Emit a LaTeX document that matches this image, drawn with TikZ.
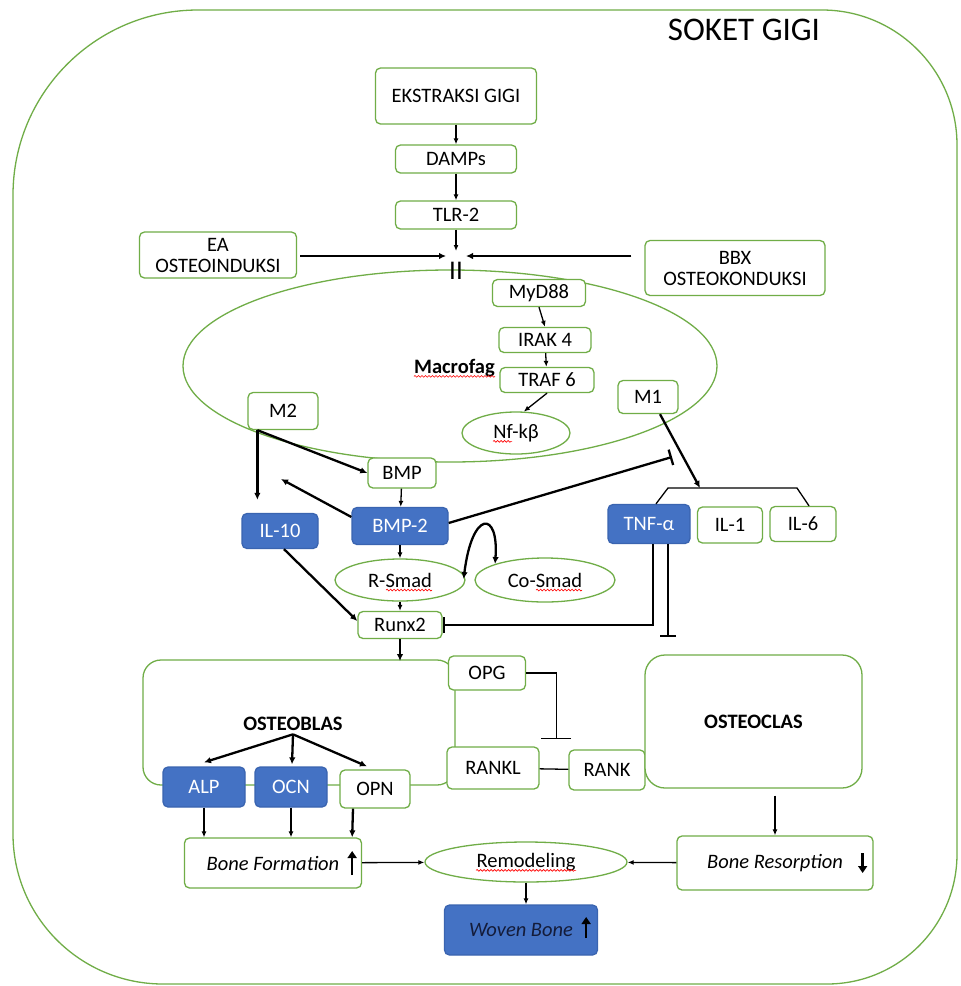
\documentclass[tikz,border=0pt]{standalone}
\usepackage{fontspec}
\setmainfont{Carlito}
\usetikzlibrary{shapes.geometric,arrows.meta,calc,decorations.pathmorphing}
\definecolor{grn}{HTML}{70AD47}
\definecolor{blu}{HTML}{4472C4}
\definecolor{bluedge}{HTML}{3A64B0}
\definecolor{navy}{HTML}{141C3A}
\newcommand\fs{\fontsize{20.5}{21}\selectfont}
\begin{document}
\begin{tikzpicture}[x=1pt,y=-1pt,
 box/.style={draw=grn, line width=1.3pt, rounded corners=5pt, fill=white, font=\fs, inner sep=0pt},
 fbox/.style={draw=bluedge, line width=1.3pt, rounded corners=5pt, fill=blu, text=white, font=\fs, inner sep=0pt},
 ell/.style={ellipse, draw=grn, line width=1.3pt, fill=white, font=\fs, inner sep=0pt},
 ar/.style={line width=1.3pt, -{Latex[length=6pt,width=5pt]}},
 tar/.style={line width=2.3pt, -{Latex[length=7pt,width=6.5pt]}},
 inh/.style={line width=2.3pt, -{Bar[width=16pt]}},
 thinl/.style={line width=1.3pt},
 updn/.style={line width=2.6pt, -{Triangle[length=7pt,width=9pt]}},
 wav/.style={red, line width=0.6pt, decorate, decoration={snake, amplitude=0.9pt, segment length=3.5pt}}
]
\useasboundingbox (0,0) rectangle (961,986);
\fill[white] (0,0) rectangle (961,986);
% outer frame
\draw[grn, line width=1.3pt] (198,10) -- (822,10) arc[start angle=-90,end angle=0,radius=135]
  -- (957,854) arc[start angle=0,end angle=90,radius=130]
  -- (163,984) arc[start angle=90,end angle=180,radius=150]
  -- (13,195) arc[start angle=180,end angle=270,radius=185] -- cycle;
\node[font=\fontsize{33}{33}\selectfont] (title) at (744,30) {SOKET GIGI};

% top chain
\node[box, minimum width=161, minimum height=56] (ek) at (456,96) {EKSTRAKSI GIGI};
\node[box, minimum width=121, minimum height=28] (damps) at (456,159) {DAMPs};
\node[box, minimum width=121, minimum height=28] (tlr) at (456,215) {TLR-2};
\node[box, minimum width=157, minimum height=46, align=center] (ea) at (218,255) {EA\\OSTEOINDUKSI};
\node[box, minimum width=180, minimum height=55, align=center] (bbx) at (735,268) {BBX\\OSTEOKONDUKSI};

% macrofag
\node[ell, fill=none, minimum width=534, minimum height=192] (mac) at (450,366) {};
\node[font=\fontsize{27}{27}\selectfont, inner sep=0pt] (ii) at (456,271) {II};
\coordinate (jl) at (446,256);
\coordinate (jr) at (466,256);
\coordinate (jt) at (456,251);
\node[font=\fs\bfseries, anchor=east, inner sep=0pt] (mactxt) at (495,368) {Macrofag};
\node[box, minimum width=93, minimum height=27] (myd) at (539,293) {MyD88};
\node[box, minimum width=92, minimum height=25] (irak) at (545,340) {IRAK 4};
\node[box, minimum width=94, minimum height=25] (traf) at (547,380) {TRAF 6};
\node[ell, minimum width=108, minimum height=42] (nfk) at (516,433) {Nf-kβ};
\node[box, minimum width=70, minimum height=37] (m2) at (283,411) {M2};
\node[box, minimum width=60, minimum height=33] (m1) at (648,397) {M1};

% middle
\node[box, minimum width=68, minimum height=30] (bmp) at (402,473) {BMP};
\node[fbox, minimum width=96, minimum height=37] (bmp2) at (400,526) {BMP-2};
\node[fbox, minimum width=76, minimum height=35] (il10) at (280,531) {IL-10};
\node[fbox, minimum width=82, minimum height=39] (tnf) at (649,524) {TNF-α};
\node[box, minimum width=65, minimum height=36] (il1) at (730,525) {IL-1};
\node[box, minimum width=66, minimum height=35] (il6) at (803,524) {IL-6};
\node[ell, minimum width=130, minimum height=42] (rs) at (400,580) {R-Smad};
\node[ell, minimum width=140, minimum height=44] (cs) at (545,580) {Co-Smad};
\node[box, minimum width=84, minimum height=27] (runx) at (400,625) {Runx2};

% osteoblas / osteoclas
\draw[grn, line width=1.3pt, rounded corners=18pt, fill=white] (143,660) rectangle (455,785);
\node[font=\fs\bfseries] (obt) at (293,724) {OSTEOBLAS};
\node[box, minimum width=77, minimum height=34] (opg) at (487,673) {OPG};
\node[box, minimum width=92, minimum height=42] (rankl) at (493,768) {RANKL};
\node[box, minimum width=76, minimum height=40] (rank) at (607,770) {RANK};
\node[box, rounded corners=20pt, minimum width=217, minimum height=133] (ocl) at (753.5,721.5) {\bfseries OSTEOCLAS};
\node[fbox, minimum width=82, minimum height=40] (alp) at (204,787) {ALP};
\node[fbox, minimum width=72, minimum height=40] (ocn) at (291,787) {OCN};
\node[box, minimum width=70, minimum height=38] (opn) at (375,789) {OPN};

% bottom
\node[box, minimum width=177, minimum height=50] (bf) at (273,863) {\itshape Bone Formation};
\node[ell, minimum width=202, minimum height=40] (rem) at (526,862) {Remodeling};
\node[box, minimum width=196, minimum height=54] (br) at (775,863) {\itshape Bone Resorption};
\node[fbox, text=navy, minimum width=153, minimum height=50] (wb) at (521,930) {\itshape Woven Bone};

% spell-check underlines
\draw[wav] ($(mactxt.base west)+(0,3)$) -- ($(mactxt.base east)+(0,3)$);
\draw[wav] ($(nfk.base)+(-23,3)$) -- ($(nfk.base)+(-4,3)$);
\draw[wav] ($(rs.base)+(-14,3)$) -- ($(rs.base)+(32,3)$);
\draw[wav] ($(cs.base)+(-9,3)$) -- ($(cs.base)+(37,3)$);
\draw[wav] ($(rem.base)+(-50,3)$) -- ($(rem.base)+(50,3)$);

% ---- connectors ----
\draw[ar] (ek) -- (damps);
\draw[ar] (damps) -- (tlr);
\draw[ar] (tlr.south) -- (jt);
\draw[tar, shorten <=3pt] (ea.east |- jl) -- (jl);
\draw[tar, shorten <=13pt] (bbx.west |- jr) -- (jr);

\draw[ar] (myd.south) -- (irak.north);
\draw[ar] (irak) -- (traf);
\draw[ar] (traf.south) -- (nfk.70);

\coordinate (m2c) at ($(m2.south west)+(10,0)$);
\draw[tar, shorten >=13pt] (m2c) -- (m2c |- il10.north);
\draw[tar] (m2c) -- (bmp.west);
\draw[ar] (bmp) -- (bmp2);
\coordinate (bmpout) at (281,479);
\draw[tar] ($(bmp2.west)+(0,-9)$) -- (bmpout);
\coordinate (inh1) at (672,457);
\draw[inh] ($(bmp2.east)+(0,-3)$) -- (inh1);
\coordinate (brk) at (700,488);
\draw[tar] ($(m1.south)+(12,0)$) -- (brk);
\draw[thinl] ($(tnf.north)+(7,0)$) -- (668,488) -- (797,488) -- ($(il6.north)+(6,0)$);
\draw[thinl] ($(il1.north)+(-3,0)$) -- ($(il1.north)+(-3,0)$ |- brk);

\draw[ar] (bmp2) -- (rs);
\draw[line width=2.3pt, {Latex[length=7pt,width=6.5pt]}-{Latex[length=7pt,width=6.5pt]}]
  ($(rs.east)+(-2,-1)$) .. controls (472,510) and (499,510) .. (cs.north west);
\draw[ar] (rs) -- (runx);
\draw[tar] ($(il10.south)+(4,0)$) -- ($(runx.west)+(0,-4)$);
\draw[inh] ($(tnf.south)+(4,0)$) |- (runx.east);
\draw[inh] ($(tnf.south)+(19,0)$) -- ++(0,93);
\draw[tar] (runx.south) -- (runx.south |- 0,661);

\draw[tar] (obt.south) -- ($(alp.north)+(0,-4)$);
\draw[tar] (obt.south) -- ($(ocn.north)+(1,-2)$);
\draw[tar] (obt.south) -- ($(opn.north)+(-8,-3)$);
\draw[thinl, -{Bar[width=30pt]}] (opg.east) -- ++(30,0) -- ++(0,66);
\draw[thinl] (rankl) -- (rank);
\draw[ar, shorten <=7pt] (br.north |- ocl.south) -- (br.north);

\draw[ar] (alp.south) -- (alp.south |- bf.north);
\draw[ar] (ocn.south) -- (ocn.south |- bf.north);
\draw[tar] ($(opn.south)+(-22,0)$) -- ($(bf.north east)+(-10,0)$);
\draw[ar] (bf) -- (rem);
\draw[ar] (br) -- (rem);
\draw[ar] (rem.south) -- (rem.south |- wb.north);

% up/down markers
\draw[updn] ($(bf.east)+(-10,12)$) -- ++(0,-24);
\draw[updn] ($(wb.east)+(-12,8)$) -- ++(0,-21);
\draw[updn] ($(br.east)+(-11,-10)$) -- ++(0,20);
\end{tikzpicture}
\end{document}
